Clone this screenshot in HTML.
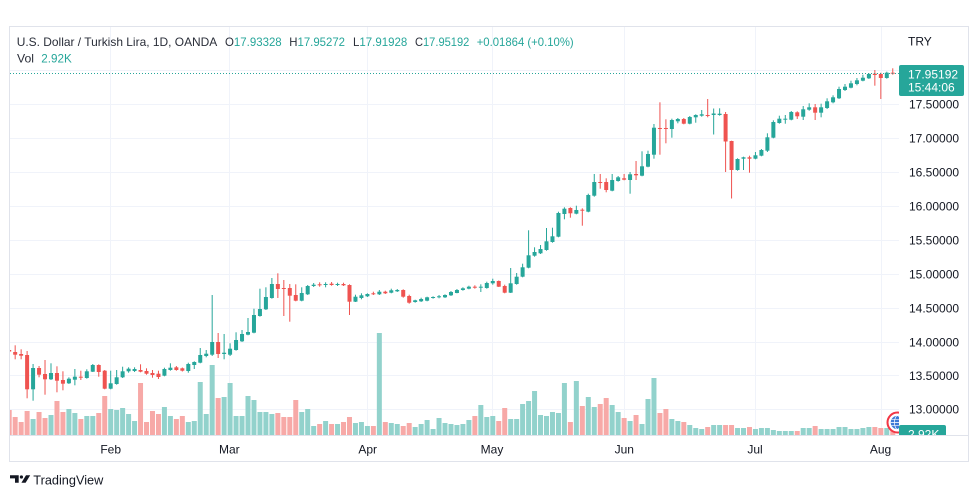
<!DOCTYPE html>
<html><head><meta charset="utf-8">
<style>
html,body{margin:0;padding:0;background:#fff;width:979px;height:498px;overflow:hidden}
svg{display:block}
text{font-family:"Liberation Sans",sans-serif}
</style></head>
<body>
<svg width="979" height="498" viewBox="0 0 979 498" xmlns="http://www.w3.org/2000/svg">
<defs>
<clipPath id="plot"><rect x="10" y="27" width="889" height="408"/></clipPath>
<clipPath id="vl"><rect x="899" y="420" width="70" height="15"/></clipPath>
</defs>
<rect x="0" y="0" width="979" height="498" fill="#fff"/>
<rect x="9.5" y="26.5" width="959" height="435" fill="#fff" stroke="#e0e3eb" stroke-width="1"/>
<g stroke="#f0f3fa" stroke-width="1">
<line x1="10" x2="899" y1="70.5" y2="70.5"/>
<line x1="10" x2="899" y1="104.5" y2="104.5"/>
<line x1="10" x2="899" y1="138.5" y2="138.5"/>
<line x1="10" x2="899" y1="172.5" y2="172.5"/>
<line x1="10" x2="899" y1="206.5" y2="206.5"/>
<line x1="10" x2="899" y1="240.5" y2="240.5"/>
<line x1="10" x2="899" y1="274.5" y2="274.5"/>
<line x1="10" x2="899" y1="308.5" y2="308.5"/>
<line x1="10" x2="899" y1="342.5" y2="342.5"/>
<line x1="10" x2="899" y1="375.5" y2="375.5"/>
<line x1="10" x2="899" y1="409.5" y2="409.5"/>
<line x1="110.5" x2="110.5" y1="27" y2="435"/>
<line x1="229.5" x2="229.5" y1="27" y2="435"/>
<line x1="367.5" x2="367.5" y1="27" y2="435"/>
<line x1="492.5" x2="492.5" y1="27" y2="435"/>
<line x1="624.5" x2="624.5" y1="27" y2="435"/>
<line x1="755.5" x2="755.5" y1="27" y2="435"/>
<line x1="881.5" x2="881.5" y1="27" y2="435"/>
</g>
<g id="series" clip-path="url(#plot)"></g>
<line x1="10" x2="899" y1="73.5" y2="73.5" stroke="#26a69a" stroke-width="1" stroke-dasharray="1 2"/>
<g clip-path="url(#plot)">
<circle cx="897.5" cy="422.5" r="10" fill="#fff" stroke="#f23645" stroke-width="2"/>
<circle cx="897.5" cy="422.5" r="6.8" fill="#3d7ad6"/>
<line x1="890.7" x2="904.3" y1="422.5" y2="422.5" stroke="#fff" stroke-width="0.8"/>
<line x1="891.5" x2="903.5" y1="419.3" y2="419.3" stroke="#fff" stroke-width="0.6"/>
<line x1="891.5" x2="903.5" y1="425.7" y2="425.7" stroke="#fff" stroke-width="0.6"/>
<ellipse cx="897.5" cy="422.5" rx="3" ry="6.8" fill="none" stroke="#fff" stroke-width="0.7"/>
</g>
<line x1="10" x2="968" y1="435.5" y2="435.5" stroke="#e0e3eb" stroke-width="1"/>

<!-- header -->
<g font-size="12" fill="#2a2e39">
<text x="16.7" y="46" textLength="200.6" lengthAdjust="spacingAndGlyphs">U.S. Dollar / Turkish Lira, 1D, OANDA</text>
<text x="225" y="46" textLength="56.7" lengthAdjust="spacingAndGlyphs">O<tspan fill="#26a69a">17.93328</tspan></text>
<text x="289.3" y="46" textLength="55.7" lengthAdjust="spacingAndGlyphs">H<tspan fill="#26a69a">17.95272</tspan></text>
<text x="353" y="46" textLength="54.3" lengthAdjust="spacingAndGlyphs">L<tspan fill="#26a69a">17.91928</tspan></text>
<text x="415" y="46" textLength="54.3" lengthAdjust="spacingAndGlyphs">C<tspan fill="#26a69a">17.95192</tspan></text>
<text x="476.7" y="46" fill="#26a69a" textLength="97" lengthAdjust="spacingAndGlyphs">+0.01864 (+0.10%)</text>
<text x="17" y="62.5" textLength="17" lengthAdjust="spacingAndGlyphs">Vol</text>
<text x="41.3" y="62.5" fill="#26a69a" textLength="30.5" lengthAdjust="spacingAndGlyphs">2.92K</text>
</g>

<!-- price axis -->
<g font-size="12" fill="#131722">
<text x="908" y="45.3">TRY</text>
<text x="909" y="108.6">17.50000</text>
<text x="909" y="142.6">17.00000</text>
<text x="909" y="176.6">16.50000</text>
<text x="909" y="210.6">16.00000</text>
<text x="909" y="244.3">15.50000</text>
<text x="909" y="278.3">15.00000</text>
<text x="909" y="312.3">14.50000</text>
<text x="909" y="346.3">14.00000</text>
<text x="909" y="379.8">13.50000</text>
<text x="909" y="413.6">13.00000</text>
</g>
<rect x="899" y="65" width="65" height="31" rx="2" fill="#26a69a"/>
<text x="908" y="78.4" font-size="12" fill="#fff">17.95192</text>
<text x="908" y="91.7" font-size="12" fill="#fff">15:44:06</text>
<g clip-path="url(#vl)">
<rect x="899" y="425" width="47" height="18" rx="2" fill="#26a69a"/>
<text x="908" y="438.3" font-size="12" fill="#fff">2.92K</text>
</g>

<!-- time axis -->
<g font-size="12" fill="#131722" text-anchor="middle">
<text x="110.7" y="453.6">Feb</text>
<text x="229.3" y="453.6">Mar</text>
<text x="367.7" y="453.6">Apr</text>
<text x="492" y="453.6">May</text>
<text x="624.3" y="453.6">Jun</text>
<text x="755" y="453.6">Jul</text>
<text x="880.5" y="453.6">Aug</text>
</g>

<!-- logo -->
<g fill="#131722">
<polygon points="10,475.3 18.7,475.3 18.7,482.7 15,482.7 15,478.4 10,478.4"/>
<circle cx="21.4" cy="477" r="1.6"/>
<polygon points="26,475.3 30.2,475.3 25.6,482.7 21.4,482.7"/>
<text x="33.3" y="484.3" font-size="12.5" textLength="70" lengthAdjust="spacingAndGlyphs">TradingView</text>
</g>
</svg>
<script>
const D=[
[350,351.5,347,353,0,410],[352,354.7,345.3,359.3,0,417],[354,355.7,349.3,359.3,0,422],[355,389.3,351,398.3,0,411],
[368,389.3,364,400.7,1,419],[368,374.7,366,377.3,0,412],[374,379.3,360,394.7,0,418],[373,379.3,363.3,380,1,415],
[373,380.7,366.3,392.3,0,401],[380,383.7,371.3,390.3,0,412],[378.7,383.3,377.3,384,1,409],[376.7,379.7,369,385.3,1,413],
[376.7,377.7,370.7,380,0,419],[371.3,378,369.3,378.7,1,416],[365,371.7,364,372,1,416],[365,372,364.3,376.7,0,413],
[370.7,388.7,370,389.3,0,396],[383.3,388.7,370.7,389.3,1,409],[377.3,384,370,384.7,1,410],[371.3,377.3,366.7,378,1,408],
[368.7,371.3,367.3,372.7,1,414],[369,371,367.3,372,1,421],[370,371.7,364.3,372.3,0,383],[371,373.7,368.3,374.7,0,422],
[373,375,370,377.7,0,411],[373.7,377,370.7,379,0,414],[369,375.7,367.7,376.3,1,407],[367.7,370,363.3,370.7,1,416],
[367.3,370,366,370.7,0,419],[368.3,370.7,367.5,371.5,0,416],[364,371,362.7,372.7,1,422],[362,365,361.3,369,1,421],
[355,362.7,348,363.3,1,382],[353.7,356,350,357.3,1,414],[342,354.7,295,356,1,365],[342,354,333,358,0,398],
[352.7,354,334,359.3,1,397],[348.7,354.7,343.3,356,1,383],[340,350,332.3,350.7,1,416],[334,341.3,330,342,1,416],
[332,334.7,318,335.3,1,396],[315,332.7,308.7,333.3,1,400],[309,316,288.7,316.7,1,412],[297,309.3,287.3,310,1,412],
[284,298,278,298.7,1,414],[284,289,273.3,298,0,413],[288,289,280,316,0,417],[288,295.7,284,321.7,0,417],
[295,300.7,284.3,301.3,0,400],[293,300.7,287.3,301.3,1,412],[286,294.3,285,295,1,409],[284.7,286,283,287,1,426],
[284.3,285.3,282.3,286.7,0,424],[284,285,282.3,287.3,1,421],[283.7,285,282,285.7,0,424],[284,285,282.7,286,1,424],
[284,285.3,282.7,286,0,422],[285,301.7,284.3,315,0,417],[296.7,301.7,294.7,302,1,423],[295.3,298,293.3,299.3,1,422],
[294,296.3,293.3,297,1,426],[293.3,294.3,291.7,295,0,426],[291.7,294.3,290,295,1,333],[291.7,293.3,290.7,294,0,422],
[290.3,292.7,288.7,293.3,1,423],[290,291.3,289,292,1,424],[290,296.7,289.3,297.7,0,426],[296,302.7,294.7,303.7,0,423],
[300.3,302,299.7,302.7,1,427],[299,301.3,297.7,302,1,424],[297.3,300.7,296.7,301.3,1,420],[297,297.7,296.3,298.7,1,429],
[296.3,297.3,295,298.3,1,418],[295,297.3,294.3,298,1,423],[292,295.3,291,296,1,424],[290,293,289,293.3,1,425],
[288.3,290,287.3,290.7,1,424],[286.7,288.7,285.7,289.3,1,420],[286.7,287.7,285.3,288.7,0,416],[286.7,287.7,284.3,292,1,405],
[283,288,281.7,288.7,1,417],[281,283.3,278.7,284.7,1,416],[281,286.7,280.5,287,0,421],[286,292.7,284.7,293.3,0,408],
[283.3,292.7,268,293,1,419],[276.7,284,273,284.7,1,419],[267.3,276.7,263.7,277.3,1,404],[255.3,267.7,230.3,268.3,1,401],
[252,255.7,247.3,256.7,1,391],[249,253.3,245,254,1,415],[241.3,250,228,250.7,1,416],[236.3,242,227.7,242.7,1,412],
[213,236.7,211.7,237.3,1,413],[208.7,214,207.3,219.3,1,383],[208,213.3,207.3,217.7,0,422],[210,213.7,205.7,214.3,1,381],
[209.7,210.7,208.3,225.7,0,406],[195,211.7,193.7,212.3,1,397],[182,195.7,174,196.7,1,407],[182,183,174,188.7,0,404],
[182,190,178.3,192.3,0,398],[180,190.7,174,191.3,1,405],[177.3,181,176,181.7,1,412],[178.3,179.7,174,180.3,0,418],
[174.3,180,172,193.7,1,421],[174,175.3,161,180,0,415],[166.3,175.7,151.3,176.3,1,424],[154,166.7,150.7,167.3,1,399],
[127.7,154.7,124,158.7,1,378],[128,129,102.3,154.7,0,413],[128,129,119.3,143.3,0,409],[120,129,118.7,137.7,1,419],
[119,121.3,118,123.3,1,421],[119,123.7,118,124.3,0,422],[117,123.7,116,124.3,1,425],[115,117.3,114.3,122.7,1,428],
[114.3,115.7,110,116.7,1,429],[115,116,99,117.3,0,427],[113.5,115,108.5,134.5,1,425],[113.7,115,108.3,115.7,1,425],
[114,141.5,112,172,0,425],[141,170,140.7,198.5,0,425],[159,170,158.3,170.7,1,428],[157.3,158.7,156.7,170,1,428],
[157.3,158.7,155.7,172.7,0,427],[155.3,158.7,152,159.3,1,429],[150,155.7,149,156.3,1,428],[137.3,150.7,133.3,152,1,428],
[122,137.7,120.3,138.3,1,430],[118.7,123,115.7,123.7,1,431],[118.7,119.7,115,123.7,1,431],[112,119.7,111,120.3,1,431],
[112.3,116.3,111.3,119,0,431],[109.3,116.7,106,120,1,428],[107.3,109.7,103.3,110.7,1,428],[107.3,112.7,104,120,0,426],
[107.3,112.7,103.7,117.3,1,429],[101.3,108,98.3,109,1,429],[97.3,102.3,95.3,103.3,1,429],[89,98.3,86.7,99,1,427],
[86.7,90,84,91,1,427],[83.3,87.7,80.7,88.3,1,429],[80.3,84,78,85.3,1,429],[77.7,80.7,74.7,81.3,1,428],
[74,78.3,73.3,79,1,427],[73.7,75,70,85.7,0,427],[74,78,72.7,99,0,428],[72.7,78,71.7,78.7,1,428],
[72.7,73.7,68.3,74.7,0,428]
];
let v='',c='';
D.forEach((d,k)=>{
  const cx=9.2+k*5.97;
  const col=d[4]?'#26a69a':'#ef5350';
  const vc=d[4]?'#92d2cc':'#f7a9a7';
  v+=`<rect x="${(cx-2.5).toFixed(2)}" y="${d[5]}" width="5" height="${(435-d[5]).toFixed(2)}" fill="${vc}"/>`;
  c+=`<rect x="${(cx-0.5).toFixed(2)}" y="${d[2]}" width="1" height="${(d[3]-d[2]).toFixed(2)}" fill="${col}"/>`;
  c+=`<rect x="${(cx-2).toFixed(2)}" y="${d[0]}" width="4" height="${Math.max(1,d[1]-d[0]).toFixed(2)}" fill="${col}"/>`;
});
document.getElementById('series').innerHTML=v+c;
</script>
</body></html>
